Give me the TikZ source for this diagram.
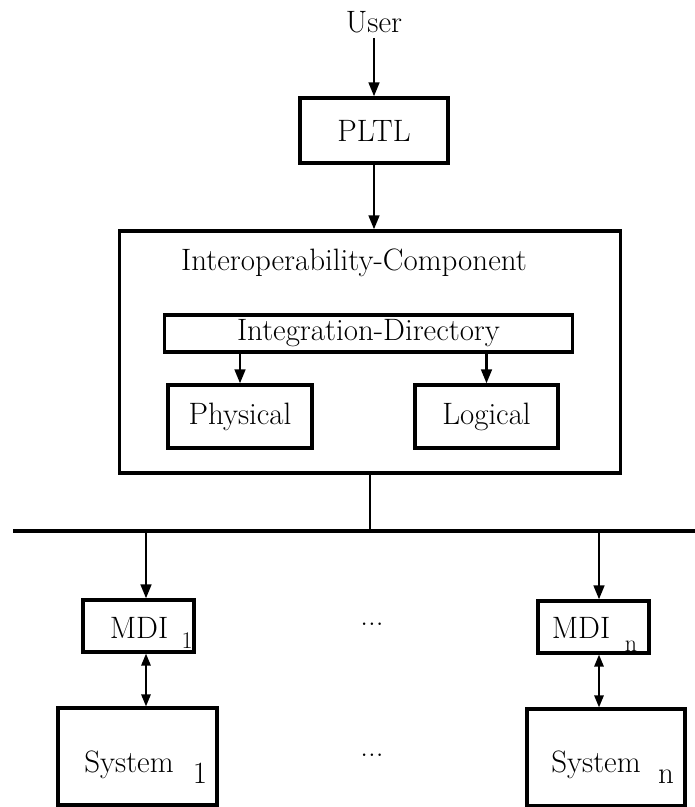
\documentclass[tikz,border=0pt]{standalone}
\usetikzlibrary{arrows.meta}
\begin{document}
\begin{tikzpicture}[x=0.025cm, y=-0.025cm,
		every node/.style={font=\fontsize{22}{26}\selectfont},
		box/.style={draw, line width=2.2pt, inner sep=0pt},
		arr/.style={line width=2pt, -{Triangle[length=10pt,width=7.5pt]}},
		darr/.style={line width=1.6pt, {Triangle[length=8.5pt,width=6.5pt]}-{Triangle[length=8.5pt,width=6.5pt]}},
		sub/.style={font=\fontsize{17}{20}\selectfont}]
	\useasboundingbox (0,0) rectangle (695,807);
			\node (U) at (374,22) {User};
			\node[box, minimum width=3.7cm, minimum height=1.625cm] (P) at (374,130.5) {PLTL};
			\node[box, minimum width=12.5cm, minimum height=6.05cm] (IC) at (370,352) {};
				\node (ICl) at (354,263) {Interoperability-Component};
				\node[box, minimum width=10.175cm, minimum height=0.925cm] (ID) at (368.5,333.5) {Integration-Directory};
				\node[box, minimum width=3.6cm, minimum height=1.575cm] (Ph) at (240,416.5) {Physical};
				\node[box, minimum width=3.575cm, minimum height=1.575cm] (Lo) at (486.5,416.5) {Logical};
			\coordinate (BL) at (13,531);
			\coordinate (BR) at (695,531);
				\coordinate (B1) at (146,531);
				\coordinate (Bn) at (599,531);
			\node[box, minimum width=2.775cm, minimum height=1.3cm] (M1) at (138.5,626) {};
				\node (M1t) at (139,628) {MDI};
				\node[sub] (M1s) at (187,641) {1};
			\node[box, minimum width=2.775cm, minimum height=1.3cm] (Mn) at (593.5,627) {};
				\node (Mnt) at (581,628) {MDI};
				\node[sub] (Mns) at (631,646) {n};
			\node (D1) at (372,624) {...};
			\node[box, minimum width=3.975cm, minimum height=2.425cm] (S1) at (137.5,756.5) {};
				\node (S1t) at (129,765) {System};
				\node (S1s) at (200,773) {1};
			\node[box, minimum width=3.95cm, minimum height=2.425cm] (Sn) at (606,757.5) {};
				\node (Snt) at (596,765) {System};
				\node (Sns) at (666,777) {n};
			\node (D2) at (372,755) {...};
			\draw[arr] (U) -- (P);
			\draw[arr] (P.south) -- (P.south |- IC.north);
				\draw[arr] (ID.south -| Ph.north) -- (Ph.north);
				\draw[arr] (ID.south -| Lo.north) -- (Lo.north);
			\draw[line width=1.4pt] (IC.south) -- (IC.south |- BL);
			\draw[line width=2.8pt] (BL) -- (BR);
				\draw[arr] (B1) -- (B1 |- M1.north);
				\draw[arr] (Bn) -- (Bn |- Mn.north);
				\draw[darr] (B1 |- M1.south) -- (B1 |- S1.north);
				\draw[darr] (Bn |- Mn.south) -- (Bn |- Sn.north);
		\end{tikzpicture}
\end{document}
